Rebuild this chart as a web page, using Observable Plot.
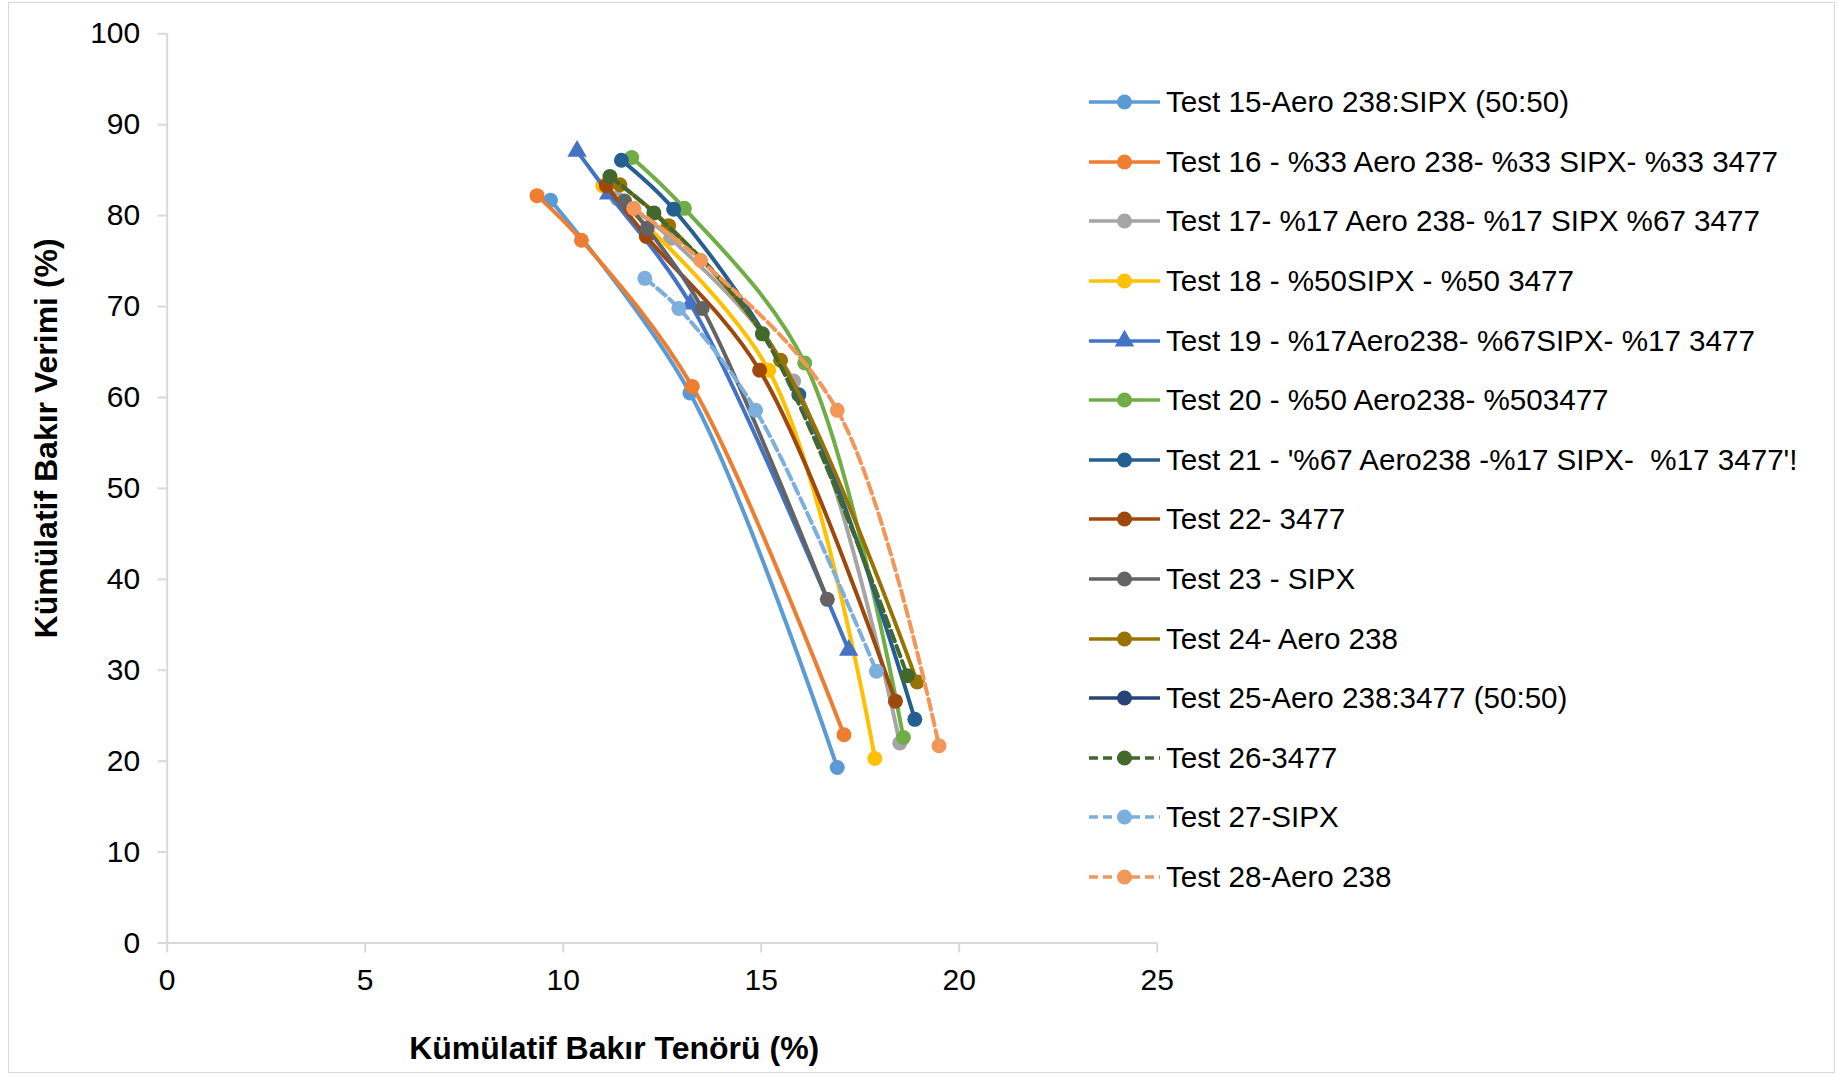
<!DOCTYPE html>
<html><head><meta charset="utf-8">
<script src="https://cdn.jsdelivr.net/npm/d3@7"></script>
<script src="https://cdn.jsdelivr.net/npm/@observablehq/plot@0.6"></script>
<style>
html,body{margin:0;padding:0;background:#fff;}
#wrap{position:relative;width:1838px;height:1075px;font-family:"Liberation Sans",Arial,sans-serif;overflow:hidden;background:#fff}
#border{position:absolute;left:8px;top:2px;width:1827px;height:1071px;border:1.5px solid #D9D9D9;box-sizing:border-box}
#chart{position:absolute;left:0;top:0}
#legend{position:absolute;left:1089px;top:72.5px}
.item{display:flex;align-items:center;height:59.6px;font-size:29.6px;color:#000;white-space:pre}
.item svg{margin-right:6px;flex:none}
</style></head><body>
<div id="wrap"><div id="border"></div><div id="chart"></div><div id="legend"></div></div>
<script>
// ---- data (Kümülatif Bakır Tenörü %, Kümülatif Bakır Verimi %) ----
const xTicks = [0, 5, 10, 15, 20, 25];
const yTicks = [0, 10, 20, 30, 40, 50, 60, 70, 80, 90, 100];
const xTitle = "Kümülatif Bakır Tenörü (%)";
const yTitle = "Kümülatif Bakır Verimi (%)";

const seriesNames = [
  "Test 15-Aero 238:SIPX (50:50)",
  "Test 16 - %33 Aero 238- %33 SIPX- %33 3477",
  "Test 17- %17 Aero 238- %17 SIPX %67 3477",
  "Test 18 - %50SIPX - %50 3477",
  "Test 19 - %17Aero238- %67SIPX- %17 3477",
  "Test 20 - %50 Aero238- %503477",
  "Test 21 - '%67 Aero238 -%17 SIPX-  %17 3477'!",
  "Test 22- 3477",
  "Test 23 - SIPX",
  "Test 24- Aero 238",
  "Test 25-Aero 238:3477 (50:50)",
  "Test 26-3477",
  "Test 27-SIPX",
  "Test 28-Aero 238"
];
const seriesColors = ["#5B9BD5","#ED7D31","#A5A5A5","#FFC000","#4472C4","#70AD47","#255E91",
                      "#9E480E","#636363","#997300","#264478","#43682B","#7CAFDD","#F1975A"];
const seriesDashed = [false,false,false,false,false,false,false,false,false,false,false,true,true,true];
const seriesSymbols = ["circle","circle","circle","circle","triangle","circle","circle",
                       "circle","circle","circle","circle","circle","circle","circle"];

const test15 = [[9.68, 81.7], [13.20, 60.5], [16.92, 19.3]];
const test16 = [[9.34, 82.2], [10.46, 77.3], [13.26, 61.2], [17.09, 22.9]];
const test17 = [[11.36, 81.9], [12.71, 77.5], [15.82, 61.8], [18.50, 22.0]];
const test18 = [[11.00, 83.3], [15.19, 63.0], [17.87, 20.3]];
const test19 = [[10.35, 87.1], [11.15, 82.4], [13.21, 70.3], [17.21, 32.2]];
const test20 = [[11.73, 86.4], [13.06, 80.8], [16.10, 63.8], [18.59, 22.6]];
const test21 = [[11.47, 86.1], [12.79, 80.7], [15.95, 60.3], [18.88, 24.6]];
const test22 = [[11.09, 83.3], [12.10, 77.7], [14.96, 63.0], [18.39, 26.6]];
const test23 = [[11.55, 81.6], [12.12, 78.6], [13.51, 69.8], [16.67, 37.8]];
const test24 = [[11.43, 83.4], [12.66, 78.9], [15.49, 64.1], [18.94, 28.7]];
const test25 = [];
const test26 = [[11.18, 84.3], [12.29, 80.3], [15.03, 67.0], [18.69, 29.4]];
const test27 = [[12.06, 73.1], [12.92, 69.8], [14.86, 58.6], [17.91, 29.9]];
const test28 = [[11.78, 80.8], [13.47, 75.1], [16.92, 58.6], [19.49, 21.7]];
const seriesData = [test15,test16,test17,test18,test19,test20,test21,test22,test23,test24,test25,test26,test27,test28];

// ---- chart ----
const DASH = "11,5";
const marks = [
  Plot.ruleY([0], {stroke: "#D9D9D9", strokeWidth: 2}),
  Plot.ruleX([0], {stroke: "#D9D9D9", strokeWidth: 2}),
  Plot.axisX({ticks: xTicks, tickSize: 10, tickPadding: 16, stroke: "#D9D9D9", strokeWidth: 2,
              fill: "#000", fontSize: 30, label: null, tickFormat: d => String(d)}),
  Plot.axisY({ticks: yTicks, tickSize: 9, tickPadding: 18, stroke: "#D9D9D9", strokeWidth: 2,
              fill: "#000", fontSize: 30, label: null, tickFormat: d => String(d)}),
  Plot.text([yTitle], {frameAnchor: "left", dx: -120, dy: -50, rotate: -90, fontSize: 32,
              fontWeight: "bold", textAnchor: "middle", lineAnchor: "middle", fill: "#000"}),
  Plot.text([xTitle], {frameAnchor: "bottom", dx: -48, dy: 106, fontSize: 32,
              fontWeight: "bold", textAnchor: "middle", lineAnchor: "middle", fill: "#000"})
];
seriesData.forEach((arr, i) => {
  const pts = arr.map(([x, y]) => ({x, y}));
  marks.push(Plot.line(pts, {x: "x", y: "y", stroke: seriesColors[i], strokeWidth: 4,
    curve: "catmull-rom", strokeDasharray: seriesDashed[i] ? DASH : null}));
  marks.push(Plot.dot(pts, {x: "x", y: "y", fill: seriesColors[i], stroke: "none",
    symbol: seriesSymbols[i], r: seriesSymbols[i] === "triangle" ? 7.2 : 7.5}));
});

const chart = Plot.plot({
  width: 1838, height: 1075,
  marginLeft: 166.7, marginRight: 681.3, marginTop: 33.3, marginBottom: 132.5,
  x: {domain: [0, 25], axis: null},
  y: {domain: [0, 100], axis: null},
  style: {fontFamily: '"Liberation Sans", Arial, sans-serif', background: "transparent", overflow: "visible", color: "#000"},
  marks
});
document.getElementById("chart").appendChild(chart);

// ---- legend ----
const legend = document.getElementById("legend");
seriesNames.forEach((name, i) => {
  const item = document.createElement("div");
  item.className = "item";
  const ns = "http://www.w3.org/2000/svg";
  const svg = document.createElementNS(ns, "svg");
  svg.setAttribute("width", 71); svg.setAttribute("height", 24);
  const line = document.createElementNS(ns, "line");
  line.setAttribute("x1", 0); line.setAttribute("x2", 71);
  line.setAttribute("y1", 12); line.setAttribute("y2", 12);
  line.setAttribute("stroke", seriesColors[i]); line.setAttribute("stroke-width", 3.5);
  if (seriesDashed[i]) line.setAttribute("stroke-dasharray", "9,5");
  svg.appendChild(line);
  const sym = seriesSymbols[i] === "triangle" ? d3.symbolTriangle : d3.symbolCircle;
  const r = seriesSymbols[i] === "triangle" ? 7.2 : 7.5;
  const p = document.createElementNS(ns, "path");
  p.setAttribute("d", d3.symbol(sym, Math.PI * r * r)());
  p.setAttribute("transform", "translate(35.5,12)");
  p.setAttribute("fill", seriesColors[i]);
  svg.appendChild(p);
  item.appendChild(svg);
  const span = document.createElement("span");
  span.textContent = name;
  item.appendChild(span);
  legend.appendChild(item);
});
</script>
</body></html>
